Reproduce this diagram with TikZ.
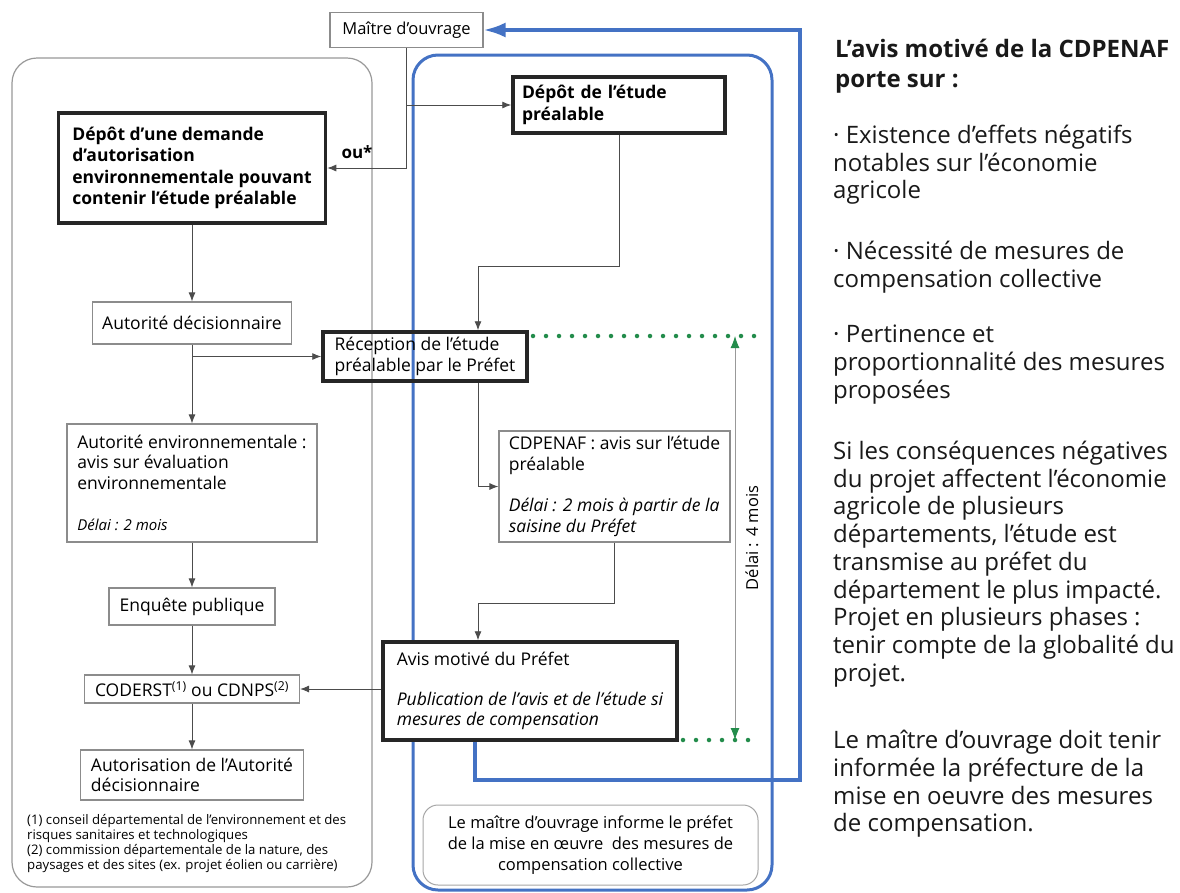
\documentclass[tikz,border=0pt]{standalone}
\usepackage{fontspec}
\setmainfont{Open Sans}
\usetikzlibrary{positioning,arrows.meta,calc}
\definecolor{cadreblue}{RGB}{68,114,196}
\definecolor{dotgreen}{RGB}{35,140,75}
\tikzset{
  flowarrow/.style={-{Latex[length=9pt,width=7pt]}, line width=0.9pt, draw=black!70},
  thinbox/.style={draw=black!45, line width=1.2pt, inner xsep=8pt, inner ysep=0pt, align=left, font=\fontsize{17.5}{20.5}\selectfont},
  thickbox/.style={draw=black!85, line width=3.5pt, inner xsep=9pt, inner ysep=0pt, align=left, font=\fontsize{17.5}{20.5}\selectfont},
  boldbox/.style={thickbox, font=\fontsize{17.5}{21.5}\selectfont\bfseries},
  notebox/.style={draw=black!35, line width=1pt, rounded corners=15pt, align=center, font=\fontsize{16.5}{21}\selectfont},
  sidetext/.style={anchor=north west, inner sep=0pt, align=left, text=black!90, font=\fontsize{24}{27.7}\selectfont},
  loopline/.style={-{Latex[length=22pt,width=15pt]}, draw=cadreblue, line width=3.5pt},
  dotline/.style={draw=dotgreen, line width=4.5pt, line cap=round, dash pattern=on 0pt off 13pt},
  delaiarrow/.style={{Latex[length=12pt,width=9pt,color=dotgreen]}-{Latex[length=12pt,width=9pt,color=dotgreen]}, draw=black!40, line width=0.9pt}
}
\begin{document}
\begin{tikzpicture}[x=1pt, y=-1pt]
  \fill[white] (0,0) rectangle (1180,892);
  \useasboundingbox (0,0) rectangle (1180,892);
  % cadres
  \draw[black!40, line width=1.2pt, rounded corners=25pt] (12,58) rectangle (372,887);
  \draw[cadreblue, line width=3pt, rounded corners=25pt] (413,55) rectangle (772,890);

  % colonne autorisation environnementale
  \node[thinbox, align=center, minimum width=153pt, minimum height=35pt, font=\fontsize{16.5}{20}\selectfont] (maitre) at (406.5,30) {Maître d’ouvrage};
  \node[boldbox, minimum width=267pt, minimum height=110pt] (demande) at (192,168) {Dépôt d’une demande\\d’autorisation\\environnementale pouvant\\contenir l’étude préalable};
  \node[thinbox, align=center, minimum width=199pt, minimum height=42pt] (decision) at (192,323) {Autorité décisionnaire};
  \node[thinbox, minimum width=250pt, minimum height=118pt] (envir) at (192,483) {Autorité environnementale :\\avis sur évaluation\\environnementale\\[21pt]{\fontsize{15}{18}\selectfont\itshape Délai : 2 mois}};
  \node[thinbox, minimum width=166pt, minimum height=37pt] (enquete) at (192,606.5) {Enquête publique};
  \node[thinbox, align=center, minimum width=215pt, minimum height=28pt] (coderst) at (192,689) {CODERST\textsuperscript{(1)} ou CDNPS\textsuperscript{(2)}};
  \node[thinbox, minimum width=223pt, minimum height=50pt] (autoris) at (192,775) {Autorisation de l’Autorité\\décisionnaire};
  \node[anchor=north west, inner sep=0pt, align=left, font=\fontsize{13.2}{15}\selectfont] (renvois) at (27,814) {(1) conseil départemental de l’environnement et des\\risques sanitaires et technologiques\\(2) commission départementale de la nature, des\\paysages et des sites (ex. projet éolien ou carrière)};

  % colonne etude prealable
  \node[boldbox, text width=194pt, minimum height=56pt] (etude) at (619,105) {Dépôt de l’étude\\préalable};
  \node[thickbox, minimum width=204pt, minimum height=49pt] (reception) at (425,356.5) {Réception de l’étude\\préalable par le Préfet};
  \node[thinbox, minimum width=231pt, minimum height=111pt] (cdpenaf) at (614.5,486.5) {CDPENAF : avis sur l’étude\\préalable\\[21pt]\textit{Délai : 2 mois à partir de la}\\\textit{saisine du Préfet}};
  \node[thickbox, fill=white, minimum width=294pt, minimum height=98pt] (avis) at (530,691) {Avis motivé du Préfet\\[19pt]\textit{Publication de l’avis et de l’étude si}\\\textit{mesures de compensation}};
  \node[notebox, minimum width=335pt, minimum height=80pt] (informe) at (590.5,845) {Le maître d’ouvrage informe le préfet\\de la mise en œuvre~ des mesures de\\compensation collective};

  % liaisons
  \coordinate (prefx) at (478,0);
  \draw[flowarrow] (maitre.south) |- (demande.east);
  \draw[flowarrow] (maitre.south |- etude.west) -- (etude.west);
  \node[font=\fontsize{17}{20}\selectfont\bfseries] (ou) at (357,152) {ou*};
  \draw[flowarrow] (demande) -- (decision);
  \draw[flowarrow] (decision) -- (envir);
  \draw[flowarrow] (decision.south |- reception.west) -- (reception.west);
  \draw[flowarrow] (envir) -- (enquete);
  \draw[flowarrow] (enquete) -- (coderst);
  \draw[flowarrow] (coderst) -- (autoris);
  \draw[flowarrow] (etude.south) -- ++(0,132) -| (reception.north -| prefx);
  \draw[flowarrow] (reception.south -| prefx) |- (cdpenaf.west);
  \draw[flowarrow] (cdpenaf.south) -- ++(0,61) -| (avis.north -| prefx);
  \draw[flowarrow] (avis.west |- coderst.east) -- (coderst.east);
  \coordinate (loopx) at (475,0);
  \draw[loopline] (avis.south -| loopx) |- (800,780) |- (maitre.east);

  % delai 4 mois
  \coordinate (dtop) at (735,336);
  \coordinate (dbot) at (735,740);
  \draw[dotline] (533,336) -- (757,336);
  \draw[dotline] (683,740) -- (757,740);
  \draw[delaiarrow] (dtop) -- (dbot);
  \node[rotate=90, font=\fontsize{16.5}{20}\selectfont] (delai) at ($(dtop)!0.5!(dbot)+(17,0)$) {Délai : 4 mois};

  % texte de droite
  \node[sidetext, font=\fontsize{24}{30}\selectfont\bfseries] (aviscd) at (835,39) {L’avis motivé de la CDPENAF\\porte sur :};
  \node[sidetext] (crit1) at (833,125) {·~Existence d’effets négatifs\\notables sur l’économie\\agricole};
  \node[sidetext] (crit2) at (833,241) {·~Nécessité de mesures de\\compensation collective};
  \node[sidetext] (crit3) at (833,325) {·~Pertinence et\\proportionnalité des mesures\\proposées};
  \node[sidetext] (multidep) at (833,441) {Si les conséquences négatives\\du projet affectent l’économie\\agricole de plusieurs\\départements, l’étude est\\transmise au préfet du\\département le plus impacté.\\Projet en plusieurs phases :\\tenir compte de la globalité du\\projet.};
  \node[sidetext] (suivi) at (833,730) {Le maître d’ouvrage doit tenir\\informée la préfecture de la\\mise en oeuvre des mesures\\de compensation.};
\end{tikzpicture}
\end{document}
